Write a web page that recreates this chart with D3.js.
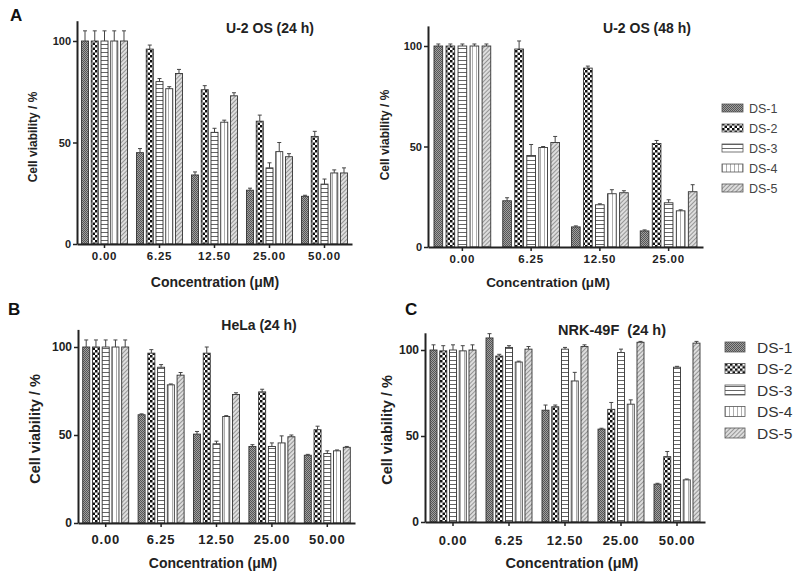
<!DOCTYPE html>
<html>
<head>
<meta charset="utf-8">
<script src="https://cdn.jsdelivr.net/npm/d3@7"></script>
<style>
  body { margin: 0; background: #fff; }
  svg { font-family: "Liberation Sans", Arial, sans-serif; }
</style>
</head>
<body>
<svg width="798" height="576"></svg>
<script>
// данные
const seriesNames = ["DS-1", "DS-2", "DS-3", "DS-4", "DS-5"];
const concFive = ["0.00", "6.25", "12.50", "25.00", "50.00"];
const concFour = ["0.00", "6.25", "12.50", "25.00"];
const yTicks = [0, 50, 100];

// U-2 OS 24 h, по сериям DS-1..DS-5
const u2os24Mean = [
    [100, 45, 34, 26.5, 23.5],
    [100, 96, 76, 60.5, 53],
    [100, 80, 55, 37.5, 29.5],
    [100, 76.5, 60, 45.5, 35],
    [100, 84, 73, 43, 35]
];
const u2os24Err = [
    [5, 2, 1.5, 1, 0.5],
    [5, 2, 2, 3, 2.5],
    [5, 1.5, 2, 2.5, 2.5],
    [5, 1, 1, 4.5, 1.5],
    [5, 2, 1.5, 1.5, 2.5]
];

// U-2 OS 48 h
const u2os48Mean = [
    [100, 23, 10, 8],
    [100, 98.5, 89, 51.5],
    [100, 45.5, 21, 22],
    [100, 49.5, 26.5, 18],
    [100, 52, 27, 27.5]
];
const u2os48Err = [
    [1, 1.5, 0.5, 0.5],
    [1, 4, 1, 1.5],
    [1, 5.5, 0.5, 1.5],
    [1, 0.5, 2, 0.5],
    [1, 3, 1, 3.5]
];

// HeLa 24 h
const helaMean = [
    [100, 61.5, 50.5, 43.5, 38.5],
    [100, 96.5, 96.5, 74.5, 53],
    [100, 88.5, 45, 43.5, 39.5],
    [100, 78.5, 60.5, 45.5, 41],
    [100, 84, 73, 49, 43]
];
const helaErr = [
    [4, 0.5, 1.5, 1, 0.5],
    [4, 2, 3.5, 1.5, 2],
    [4, 1.5, 1.5, 2, 1.5],
    [4, 0.5, 0.5, 4, 0.5],
    [4, 1.5, 1, 1, 0.5]
];

// NRK-49F 24 h
const nrkMean = [
    [100, 107, 65, 54, 22],
    [99.5, 96.5, 67, 65.5, 38],
    [100, 101.5, 100.5, 98.5, 90],
    [99.5, 93, 82, 68.5, 24.5],
    [100, 100.5, 102, 104.5, 104]
];
const nrkErr = [
    [3, 2.5, 3, 0.5, 0.5],
    [3, 1, 1, 4, 3],
    [3, 1, 1, 2, 0.5],
    [3, 0.5, 5, 2.5, 0.5],
    [3, 1.5, 1, 0.5, 1]
];

const svg = d3.select("svg");
const defs = svg.append("defs");

// штриховки для серий
function makePatterns() {
    // DS-1: мелкая серая сетка
    let p = defs.append("pattern").attr("id", "pat0")
        .attr("patternUnits", "userSpaceOnUse").attr("width", 2).attr("height", 2);
    p.append("rect").attr("width", 2).attr("height", 2).attr("fill", "#a0a0a0");
    p.append("rect").attr("width", 1).attr("height", 1).attr("fill", "#555");
    p.append("rect").attr("x", 1).attr("y", 1).attr("width", 1).attr("height", 1).attr("fill", "#555");

    // DS-2: шахматка
    p = defs.append("pattern").attr("id", "pat1")
        .attr("patternUnits", "userSpaceOnUse").attr("width", 5).attr("height", 5);
    p.append("rect").attr("width", 5).attr("height", 5).attr("fill", "#fff");
    p.append("rect").attr("width", 2.5).attr("height", 2.5).attr("fill", "#111");
    p.append("rect").attr("x", 2.5).attr("y", 2.5).attr("width", 2.5).attr("height", 2.5).attr("fill", "#111");

    // DS-3: горизонтальные линии
    p = defs.append("pattern").attr("id", "pat2")
        .attr("patternUnits", "userSpaceOnUse").attr("width", 4).attr("height", 4);
    p.append("rect").attr("width", 4).attr("height", 4).attr("fill", "#fff");
    p.append("line").attr("x1", 0).attr("x2", 4).attr("y1", 0.5).attr("y2", 0.5)
        .attr("stroke", "#666").attr("stroke-width", 1);

    // DS-4: вертикальные линии
    p = defs.append("pattern").attr("id", "pat3")
        .attr("patternUnits", "userSpaceOnUse").attr("width", 4).attr("height", 4);
    p.append("rect").attr("width", 4).attr("height", 4).attr("fill", "#fff");
    p.append("line").attr("x1", 0.5).attr("x2", 0.5).attr("y1", 0).attr("y2", 4)
        .attr("stroke", "#999").attr("stroke-width", 0.8);

    // DS-5: диагональ
    p = defs.append("pattern").attr("id", "pat4")
        .attr("patternUnits", "userSpaceOnUse").attr("width", 3).attr("height", 3)
        .attr("patternTransform", "rotate(45)");
    p.append("rect").attr("width", 3).attr("height", 3).attr("fill", "#ddd");
    p.append("line").attr("x1", 0).attr("x2", 0).attr("y1", 0).attr("y2", 3)
        .attr("stroke", "#666").attr("stroke-width", 1.2);
}
makePatterns();

const panels = [
    { letter: "A", lx: 10, ly: 21, title: "U-2 OS (24 h)", tx: 270, ty: 33, cats: concFive,
      mean: u2os24Mean, err: u2os24Err, left: 77, right: 352, y0: 244, yTop: 20.7, pad: 4.5,
      ylx: 37, yly: 137, ylSize: 12, xtx: 215, xty: 287, xtSize: 14, tickSize: 11.5, yTickSize: 11, tickDy: 16, titleSize: 14 },
    { letter: "", title: "U-2 OS (48 h)", tx: 647, ty: 33, cats: concFour,
      mean: u2os48Mean, err: u2os48Err, left: 428, right: 703, y0: 247, yTop: 25.9, pad: 6,
      ylx: 389, yly: 135, ylSize: 12, xtx: 548, xty: 287, xtSize: 13.5, tickSize: 11.5, yTickSize: 11, tickDy: 16, titleSize: 14 },
    { letter: "B", lx: 8, ly: 315, title: "HeLa (24 h)", tx: 259, ty: 330, cats: concFive,
      mean: helaMean, err: helaErr, left: 78, right: 355, y0: 523, yTop: 329.4, pad: 4.7,
      ylx: 40, yly: 429, ylSize: 14.5, xtx: 213, xty: 568, xtSize: 14, tickSize: 13, yTickSize: 12, tickDy: 20, titleSize: 14 },
    { letter: "C", lx: 405, ly: 315, title: "NRK-49F  (24 h)", tx: 612, ty: 335, cats: concFive,
      mean: nrkMean, err: nrkErr, left: 425, right: 705, y0: 522, yTop: 332.8, pad: 5,
      ylx: 392, yly: 430, ylSize: 14.5, xtx: 572, xty: 568, xtSize: 14.5, tickSize: 13, yTickSize: 12, tickDy: 22, titleSize: 14.5 }
];

function drawPanel(cfg) {
    const g = svg.append("g");

    const x0 = d3.scaleBand().domain(cfg.cats).range([cfg.left, cfg.right]);
    const x1 = d3.scaleBand().domain(seriesNames)
        .range([cfg.pad, x0.bandwidth() - cfg.pad]).paddingInner(0.28);
    const y = d3.scaleLinear().domain([0, 110]).range([cfg.y0, cfg.yTop]);

    // столбики
    seriesNames.forEach((s, si) => {
        const rows = cfg.cats.map((c, ci) => ({ c: c, v: cfg.mean[si][ci], e: cfg.err[si][ci] }));
        const sg = g.append("g");
        sg.selectAll("rect").data(rows).join("rect")
            .attr("x", d => x0(d.c) + x1(s))
            .attr("y", d => y(d.v))
            .attr("width", x1.bandwidth())
            .attr("height", d => y(0) - y(d.v))
            .attr("fill", `url(#pat${si})`)
            .attr("stroke", "#333")
            .attr("stroke-width", 0.9);
        // планки погрешностей
        sg.selectAll("line.eb").data(rows.filter(d => d.e > 0)).join("line")
            .attr("class", "eb")
            .attr("x1", d => x0(d.c) + x1(s) + x1.bandwidth() / 2)
            .attr("x2", d => x0(d.c) + x1(s) + x1.bandwidth() / 2)
            .attr("y1", d => y(d.v))
            .attr("y2", d => y(d.v + d.e))
            .attr("stroke", "#444").attr("stroke-width", 1);
        sg.selectAll("line.cap").data(rows.filter(d => d.e > 0)).join("line")
            .attr("class", "cap")
            .attr("x1", d => x0(d.c) + x1(s) + x1.bandwidth() / 2 - 2)
            .attr("x2", d => x0(d.c) + x1(s) + x1.bandwidth() / 2 + 2)
            .attr("y1", d => y(d.v + d.e))
            .attr("y2", d => y(d.v + d.e))
            .attr("stroke", "#444").attr("stroke-width", 1);
    });

    // оси
    const xAxis = g.append("g").attr("transform", `translate(0,${cfg.y0})`)
        .call(d3.axisBottom(x0).tickSize(4).tickSizeOuter(0).tickPadding(cfg.tickDy - 12));
    const yAxis = g.append("g").attr("transform", `translate(${cfg.left},0)`)
        .call(d3.axisLeft(y).tickValues(yTicks).tickSize(4).tickSizeOuter(0).tickPadding(2));
    [xAxis, yAxis].forEach(a => {
        a.select(".domain").attr("stroke", "#222").attr("stroke-width", 2);
        a.selectAll(".tick line").attr("stroke", "#222").attr("stroke-width", 1.5);
        a.selectAll(".tick text").attr("font-weight", "bold")
            .attr("fill", "#222").attr("font-family", "Liberation Sans, Arial, sans-serif");
    });
    xAxis.selectAll(".tick text").attr("font-size", cfg.tickSize).attr("letter-spacing", 0.8);
    yAxis.selectAll(".tick text").attr("font-size", cfg.yTickSize);

    // подписи
    if (cfg.letter) {
        g.append("text").attr("x", cfg.lx).attr("y", cfg.ly).text(cfg.letter)
            .attr("font-size", 17).attr("font-weight", "bold").attr("fill", "#111");
    }
    g.append("text").attr("x", cfg.tx).attr("y", cfg.ty).text(cfg.title)
        .attr("text-anchor", "middle").attr("font-size", cfg.titleSize)
        .attr("font-weight", "bold").attr("fill", "#222").attr("xml:space", "preserve")
        .style("white-space", "pre");
    g.append("text")
        .attr("transform", `translate(${cfg.ylx},${cfg.yly}) rotate(-90)`)
        .attr("text-anchor", "middle").attr("font-size", cfg.ylSize)
        .attr("font-weight", "bold").attr("fill", "#222").text("Cell viability / %");
    g.append("text").attr("x", cfg.xtx).attr("y", cfg.xty).text("Concentration (μM)")
        .attr("text-anchor", "middle").attr("font-size", cfg.xtSize)
        .attr("font-weight", "bold").attr("fill", "#222");
}

panels.forEach(drawPanel);

// легенды
function drawLegend(x, y, step, boxW, boxH, textX, fontSize, color) {
    const lg = svg.append("g").attr("transform", `translate(${x},${y})`);
    const rows = lg.selectAll("g").data(seriesNames).join("g")
        .attr("transform", (d, i) => `translate(0,${i * step})`);
    rows.append("rect").attr("x", 0).attr("y", -boxH / 2)
        .attr("width", boxW).attr("height", boxH)
        .attr("fill", (d, i) => `url(#pat${i})`).attr("stroke", "#555").attr("stroke-width", 0.8);
    rows.append("text").attr("x", textX).attr("y", 0).attr("dy", "0.36em")
        .attr("font-size", fontSize).attr("fill", color).text(d => d);
}
drawLegend(722, 108, 20, 21, 8, 27, 12.5, "#444");
drawLegend(725, 347, 21.5, 20, 10, 32, 15.5, "#333");
</script>
</body>
</html>
